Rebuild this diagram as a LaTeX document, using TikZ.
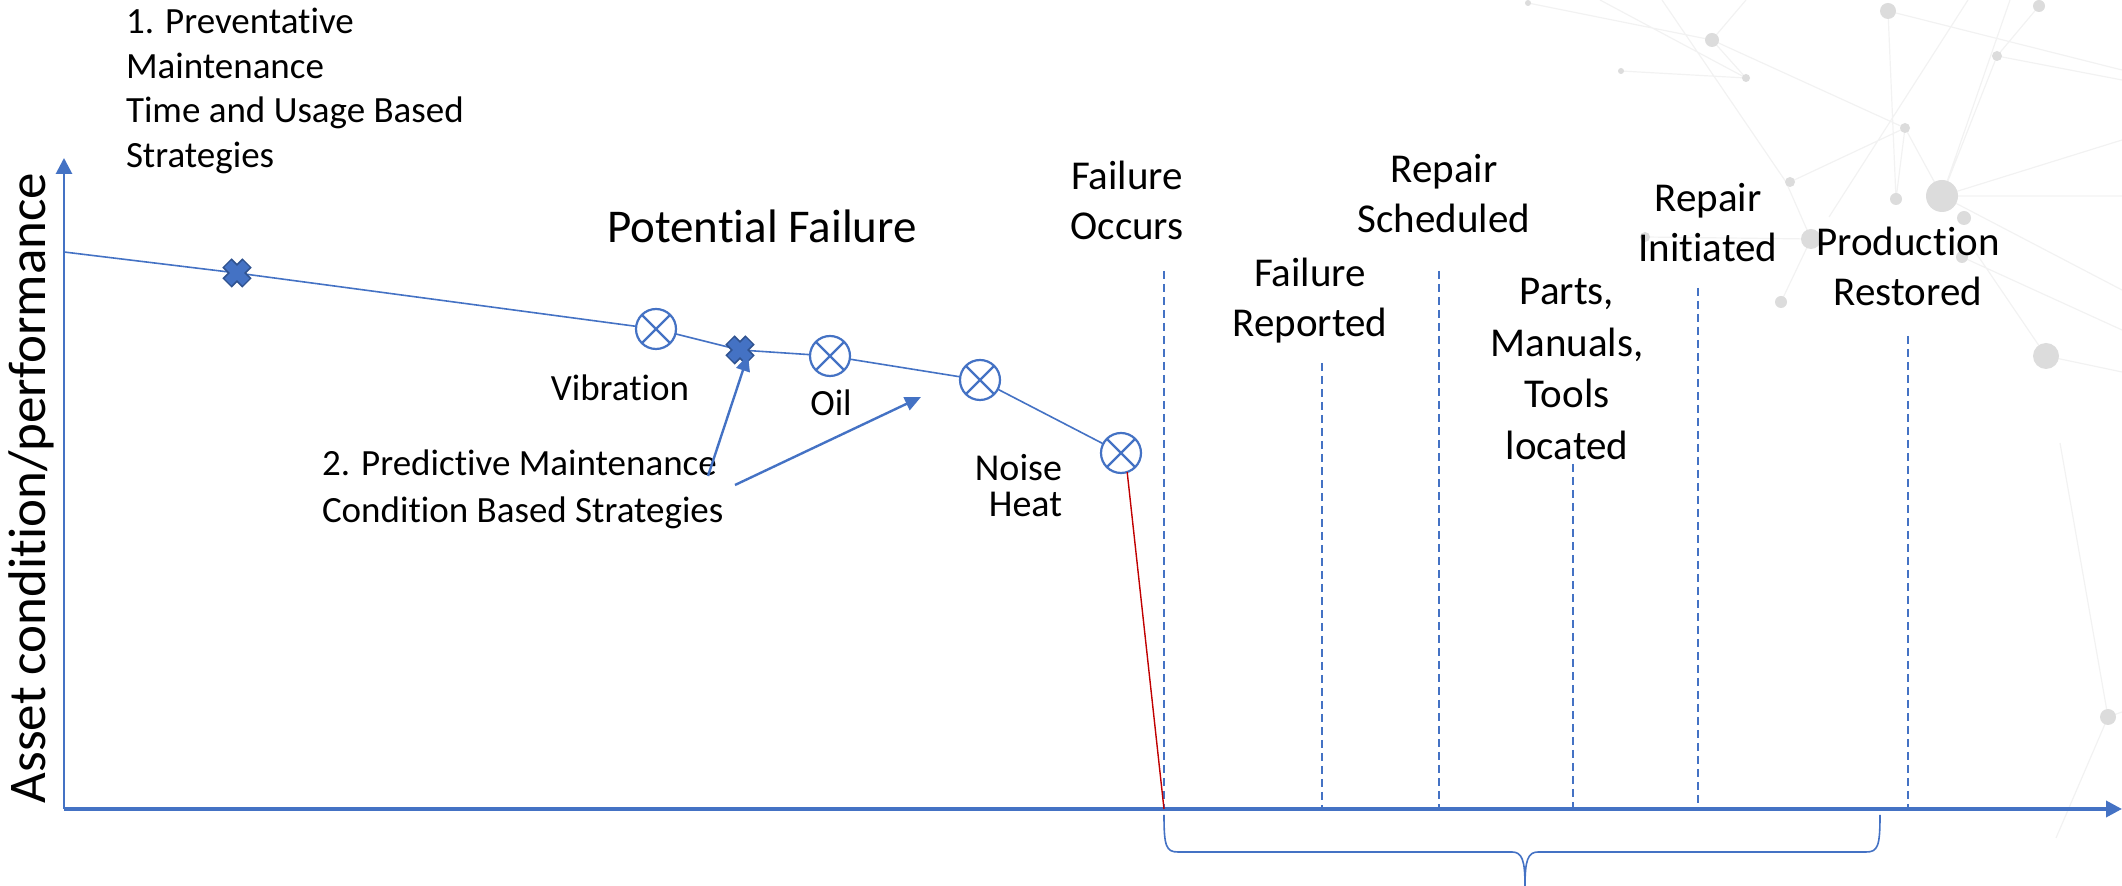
\documentclass[tikz,border=0pt]{standalone}
\usepackage{fontspec}
\setmainfont{Carlito}[Ligatures=NoCommon, Contextuals=NoAlternate, RawFeature={-clig;-dlig;-calt}]
\usetikzlibrary{arrows.meta}
\definecolor{ob}{HTML}{4472C4}
\definecolor{obd}{HTML}{2F528F}
\definecolor{fred}{HTML}{C00000}
\definecolor{bgline}{HTML}{F2F2F2}
\definecolor{bgdot}{HTML}{DCDCDC}
\begin{document}
\begin{tikzpicture}[x=0.5pt,y=-0.5pt,
  every node/.style={inner sep=0pt, outer sep=0pt},
  lbl/.style={font=\fontsize{20.5}{25}\selectfont, align=center},
  small/.style={font=\fontsize{18.5}{22.3}\selectfont, align=left},
  sensor/.style={circle, draw=ob, fill=white, line width=1.1pt, minimum size=20pt,
    path picture={\draw[ob, line width=1.1pt]
      (path picture bounding box.north west) -- (path picture bounding box.south east)
      (path picture bounding box.north east) -- (path picture bounding box.south west);}},
  trend/.style={ob, line width=0.8pt},
  evline/.style={ob, dash pattern=on 4pt off 2.5pt, line width=0.7pt},
  axisline/.style={ob, line width=1.8pt, -{Triangle[length=8pt,width=8pt]}},
  note/.style={ob, line width=1.2pt, -{Triangle[length=8pt,width=7pt]}},
  bgl/.style={bgline, line width=0.6pt},
  bgd/.style={fill=bgdot},
]
\useasboundingbox (0,0) rectangle (2122,886);

% faint background network
\draw[bgl] (1942,196) -- (2122,196) (1942,196) -- (2122,140) (1942,196) -- (2122,290)
  (1942,196) -- (2010,0) (1942,196) -- (1905,128) (1976,253) -- (2046,356)
  (2046,356) -- (2122,372) (2060,443) -- (2108,717) (2108,717) -- (2056,838)
  (2108,717) -- (2122,712) (1829,217) -- (1968,0) (1662,0) -- (1786,182) -- (1811,239)
  (1712,40) -- (1905,128) -- (1896,199) (1528,3) -- (1712,40) -- (1746,78)
  (1888,11) -- (1896,199) (2039,6) -- (1997,56) -- (1942,196) (1888,11) -- (2122,70)
  (1621,71) -- (1746,78) (1790,182) -- (1905,128) (1645,237) -- (1811,239)
  (1997,56) -- (2122,80) (1811,239) -- (1781,302) (1962,257) -- (2122,330)
  (1600,0) -- (1746,78) (1746,0) -- (1712,40);
\foreach \a/\b/\r in {1528/3/3, 1712/40/7, 1621/71/3, 1746/78/4, 1888/11/8, 2039/6/6,
  1997/56/5, 1905/128/5, 1790/182/5, 1896/199/6, 1942/196/16, 1964/218/7,
  1811/239/10, 1962/257/6, 1781/302/6, 2046/356/13, 1645/237/5, 2108/717/8}{
  \fill[bgd] (\a,\b) circle[radius=\r];}

% axes
\coordinate (origin) at (64,809);
\coordinate (ytip) at (64,158);
\coordinate (xtip) at (2122,809);
\draw[axisline, line width=1.4pt] (origin) -- (ytip);
\draw[axisline] (origin) -- (xtip);
\node[rotate=90, font=\fontsize{26.5}{30}\selectfont] (ylab) at (31,488) {Asset condition/performance};

% event dashed lines
\coordinate (e1t) at (1164,271); \coordinate (e1b) at (1164,809);
\coordinate (e2t) at (1322,363); \coordinate (e2b) at (1322,809);
\coordinate (e3t) at (1439,271); \coordinate (e3b) at (1439,809);
\coordinate (e4t) at (1573,464); \coordinate (e4b) at (1573,809);
\coordinate (e5t) at (1698,288); \coordinate (e5b) at (1698,809);
\coordinate (e6t) at (1908,336); \coordinate (e6b) at (1908,809);
\foreach \i in {1,...,6}{\draw[evline] (e\i t) -- (e\i b);}

% event labels
\node[lbl] (occ) at (1127,200) {Failure\\Occurs};
\node[lbl] (rep) at (1310,301) {Failure\\Reported};
\node[lbl] (sch) at (1444,194) {Repair\\Scheduled};
\node[lbl, font=\fontsize{20.5}{25.7}\selectfont] (prt) at (1567,369) {Parts,\\Manuals,\\Tools\\located};
\node[lbl] (ini) at (1708,223) {Repair\\Initiated};
\node[lbl] (res) at (1908,266) {Production\\Restored};

% degradation curve
\coordinate (start) at (64,252);
\coordinate (x1) at (237,273);
\node[sensor] (c1) at (656,329) {};
\coordinate (x2) at (740,350);
\node[sensor] (c2) at (830,356) {};
\node[sensor] (c3) at (980,380) {};
\node[sensor] (c4) at (1121,453) {};
\coordinate (fail) at (1164,809);
\draw[trend] (start) -- (x1) -- (c1) -- (x2) -- (c2) -- (c3) -- (c4);
\draw[fred, line width=0.7pt] (c4.-72) -- (fail);

% preventive cross marks
\foreach \p in {x1,x2}{
  \draw[obd, line width=6.6pt] ([shift={(-10,-10)}]\p) -- ([shift={(10,10)}]\p)
    ([shift={(-10,10)}]\p) -- ([shift={(10,-10)}]\p);}
\foreach \p in {x1,x2}{
  \draw[ob, line width=4.8pt] ([shift={(-9,-9)}]\p) -- ([shift={(9,9)}]\p)
    ([shift={(-9,9)}]\p) -- ([shift={(9,-9)}]\p);}

% sensor labels
\node[small] (vib) at (620,388) {Vibration};
\node[small] (oil) at (831,403) {Oil};
\node[small, align=right, font=\fontsize{19}{18}\selectfont, anchor=east] (nh) at (1062,486) {Noise\\Heat};

% titles
\node[font=\fontsize{23.5}{28}\selectfont] (pot) at (762,226) {Potential Failure};
\node[small, anchor=west] (prev) at (126,91) {1. Preventative\\Maintenance\\Time and Usage Based\\Strategies};
\node[small, anchor=west, font=\fontsize{18.5}{23.5}\selectfont] (pred) at (322,489) {2. Predictive Maintenance\\Condition Based Strategies};

% annotation arrows
\coordinate (a1s) at (708,476); \coordinate (a1e) at (748,355);
\coordinate (a2s) at (735,485); \coordinate (a2e) at (921,397);
\draw[note] (a1s) -- (a1e);
\draw[note] (a2s) -- (a2e);

% brace
\coordinate (bl) at (1164,815);
\coordinate (bm) at (1525,886);
\coordinate (br) at (1880,815);
\draw[ob, line width=0.8pt] (bl) .. controls (1164,846) and (1166,852) .. (1178,852)
  -- (1512,852) .. controls (1522,852) and (1525,860) .. (bm);
\draw[ob, line width=0.8pt] (bm) .. controls (1525,860) and (1528,852) .. (1538,852)
  -- (1866,852) .. controls (1878,852) and (1880,846) .. (br);
\end{tikzpicture}
\end{document}
